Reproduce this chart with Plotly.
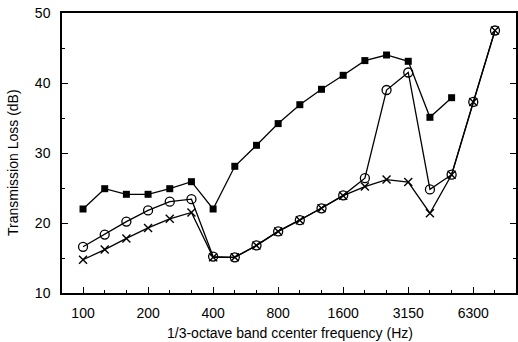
import plotly.graph_objects as go

bands = ["100", "125", "160", "200", "250", "315", "400", "500", "630", "800",
         "1000", "1250", "1600", "2000", "2500", "3150", "4000", "5000", "6300", "8000"]
tick_labels = ["100", "200", "400", "800", "1600", "3150", "6300"]

tl_squares = [22.0, 24.9, 24.1, 24.1, 24.9, 25.9, 22.0, 28.1, 31.1, 34.2,
              36.9, 39.1, 41.1, 43.2, 44.0, 43.1, 35.1, 37.9, None, None]
tl_circles = [16.6, 18.35, 20.2, 21.8, 23.05, 23.4, 15.2, 15.1, 16.8, 18.8,
              20.4, 22.1, 23.95, 26.4, 39.0, 41.5, 24.8, 26.9, 37.3, 47.5]
tl_crosses = [14.75, 16.2, 17.8, 19.3, 20.6, 21.5, 15.1, 15.1, 16.8, 18.8,
              20.4, 22.1, 23.9, 25.2, 26.2, 25.85, 21.4, 26.9, 37.3, 47.5]

idx = list(range(len(bands)))
tick_idx = [bands.index(t) for t in tick_labels]

fig = go.Figure()
fig.add_trace(go.Scatter(x=idx, y=tl_squares, mode="lines+markers",
                         line=dict(color="black", width=1.3),
                         marker=dict(symbol="square", size=7, color="black"),
                         connectgaps=False, showlegend=False))
fig.add_trace(go.Scatter(x=idx, y=tl_crosses, mode="lines+markers",
                         line=dict(color="black", width=1.3),
                         marker=dict(symbol="x-thin", size=8, color="black",
                                     line=dict(color="black", width=1.4)),
                         showlegend=False))
fig.add_trace(go.Scatter(x=idx, y=tl_circles, mode="lines+markers",
                         line=dict(color="black", width=1.3),
                         marker=dict(symbol="circle-open", size=9, color="black",
                                     line=dict(color="black", width=1.3)),
                         showlegend=False))

font = dict(family="Liberation Sans, Arial, sans-serif", size=14, color="black")

fig.update_layout(
    width=518, height=342,
    margin=dict(l=62, r=2, t=13, b=49, autoexpand=False),
    plot_bgcolor="white", paper_bgcolor="white",
    font=font,
    annotations=[
        dict(text="1/3-octave band ccenter frequency (Hz)", xref="paper", yref="paper",
             x=0.503, y=-0.143, xanchor="center", yanchor="middle", showarrow=False,
             font=dict(size=14)),
        dict(text="Transmission Loss (dB)", xref="paper", yref="paper",
             x=-0.108, y=0.468, xanchor="center", yanchor="middle", showarrow=False,
             textangle=-90, font=dict(size=14)),
    ],
)
fig.update_xaxes(
    range=[-0.97, 19.97], tickmode="array", tickvals=tick_idx, ticktext=tick_labels,
    ticks="inside", ticklen=6, tickwidth=1.2, tickcolor="black",
    minor=dict(ticks="inside", ticklen=3, tickwidth=1, tickcolor="black", dtick=1, tick0=0),
    showline=True, linecolor="black", linewidth=1.5, mirror=True,
    showgrid=False, zeroline=False, ticklabelstandoff=6, automargin=False,
)
fig.update_yaxes(
    range=[10, 50], tickvals=[10, 20, 30, 40, 50],
    ticks="inside", ticklen=6, tickwidth=1.2, tickcolor="black",
    minor=dict(ticks="inside", ticklen=3, tickwidth=1, tickcolor="black", dtick=5, tick0=0),
    showline=True, linecolor="black", linewidth=1.5, mirror="ticks",
    showgrid=False, zeroline=False, ticklabelstandoff=7, automargin=False,
)

fig.write_html("out.html", config={"displayModeBar": False},
               post_script="document.body.style.margin='0';")
